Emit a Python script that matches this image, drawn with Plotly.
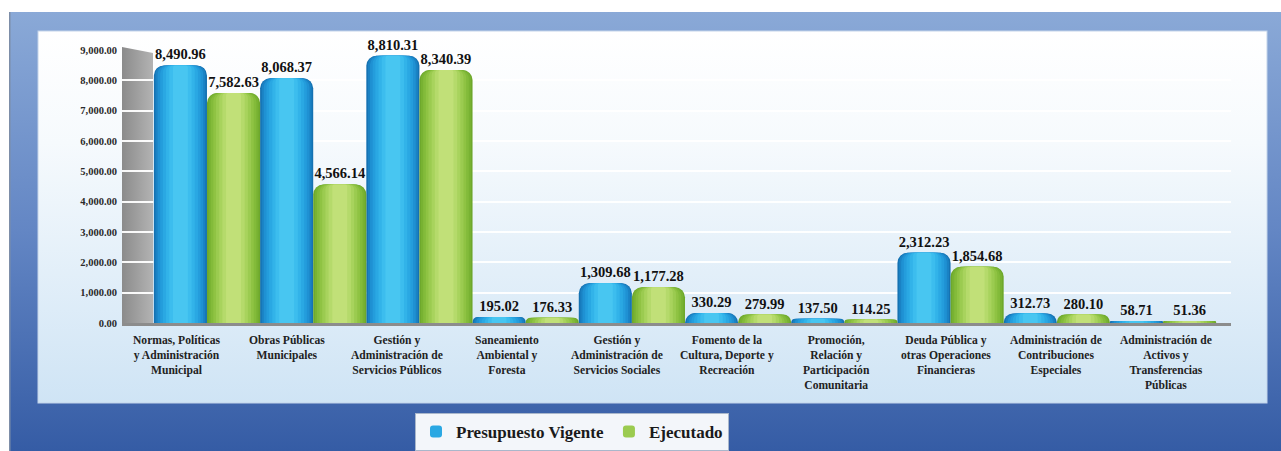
import base64
import plotly.graph_objects as go

# ---- data -------------------------------------------------------------
categorias = [
    "Normas, Políticas<br>y Administración<br>Municipal",
    "Obras Públicas<br>Municipales",
    "Gestión y<br>Administración de<br>Servicios Públicos",
    "Saneamiento<br>Ambiental y<br>Foresta",
    "Gestión y<br>Administración de<br>Servicios Sociales",
    "Fomento de la<br>Cultura, Deporte y<br>Recreación",
    "Promoción,<br>Relación y<br>Participación<br>Comunitaria",
    "Deuda Pública y<br>otras Operaciones<br>Financieras",
    "Administración de<br>Contribuciones<br>Especiales",
    "Administración de<br>Activos y<br>Transferencias<br>Públicas",
]
presupuesto_vigente = [8490.96, 8068.37, 8810.31, 195.02, 1309.68,
                       330.29, 137.50, 2312.23, 312.73, 58.71]
ejecutado = [7582.63, 4566.14, 8340.39, 176.33, 1177.28,
             279.99, 114.25, 1854.68, 280.10, 51.36]
y_ticks = [0, 1000, 2000, 3000, 4000, 5000, 6000, 7000, 8000, 9000]

# ---- page geometry (pixels) -------------------------------------------
W, H = 1281, 451
PLOT_L, PLOT_R = 122, 1231      # floor / value axis extent
PLOT_B, PLOT_T = 323, 50        # y=0 and y=9000
X_RANGE = [-0.8, 9.64]

SERIF = "Liberation Serif"

# ---- background: framed panel with gradients ---------------------------
svg = f"""<svg xmlns="http://www.w3.org/2000/svg" width="{W}" height="{H}" viewBox="0 0 {W} {H}">
<defs>
<linearGradient id="fr" x1="0" y1="0" x2="0" y2="1">
<stop offset="0" stop-color="#8aa9d7"/><stop offset="0.5" stop-color="#6386c4"/><stop offset="1" stop-color="#355ca5"/>
</linearGradient>
<linearGradient id="pn" x1="0" y1="0" x2="0" y2="1">
<stop offset="0" stop-color="#ffffff"/><stop offset="0.3" stop-color="#f6fafd"/><stop offset="1" stop-color="#cfe4f5"/>
</linearGradient>
<linearGradient id="wl" x1="0" y1="0" x2="1" y2="0">
<stop offset="0" stop-color="#8b8b8b"/><stop offset="1" stop-color="#b3b3b3"/>
</linearGradient>
</defs>
<rect x="10" y="12" width="{W-10}" height="{H-12}" fill="url(#fr)"/>
<rect x="9" y="12" width="1.5" height="{H-12}" fill="#7d8ea8"/>
<rect x="38" y="31" width="1229" height="372" fill="url(#pn)" stroke="#c3d4ea" stroke-width="1"/>
<polygon points="{PLOT_L},{PLOT_T-3} 153,{PLOT_T+3} 153,{PLOT_B} {PLOT_L},{PLOT_B}" fill="url(#wl)"/>
</svg>"""
svg_uri = "data:image/svg+xml;base64," + base64.b64encode(svg.encode()).decode()

fig = go.Figure()

# ---- cylinder-shaded bars: stacked layers, narrowing and lightening -----
shade_blue = ["#1572b2", "#1a82c4", "#1f91d3", "#249ddc", "#2aa8e3",
              "#32b3e9", "#3cbdee", "#48c6f1"]
shade_green = ["#6ea82c", "#78b232", "#83bb3a", "#8fc343", "#9bcb50",
               "#a8d35d", "#b5da6b", "#c1e078"]
insets = [0.0, 0.03, 0.07, 0.12, 0.17, 0.23, 0.29, 0.36]
HALF = 0.5
LEGEND_LAYER = 4


def add_cylinder(values, left, shades, name):
    for k, (inset, col) in enumerate(zip(insets, shades)):
        width = HALF * (1 - 2 * inset)
        fig.add_trace(go.Bar(
            x=list(range(len(values))), y=values,
            offset=left + HALF * inset, width=width,
            marker=dict(color=col, line=dict(width=0), cornerradius="20%"),
            name=name,
            showlegend=(k == LEGEND_LAYER),
            text=[f"{v:,.2f}" for v in values] if k == 0 else None,
            textposition="outside" if k == 0 else None,
            textfont=dict(family=SERIF, size=14.5, color="#111111", weight="bold"),
            constraintext="none",
            cliponaxis=False,
            hoverinfo="skip" if k else "y+name",
        ))


add_cylinder(presupuesto_vigente, -0.5, shade_blue, "Presupuesto Vigente")
add_cylinder(ejecutado, 0.0, shade_green, "Ejecutado")

# category labels, drifting left toward the front of the 3-D floor
labels = []
for i, cat in enumerate(categorias):
    labels.append(dict(
        x=i, y=0, xref="x", yref="y", text=cat, showarrow=False,
        xanchor="center", yanchor="top", align="center",
        xshift=-30 + 3.7 * i, yshift=-9,
        font=dict(family=SERIF, size=11.6, color="#222222", weight="bold"),
    ))

fig.update_layout(
    width=W, height=H,
    margin=dict(l=0, r=0, t=0, b=0),
    paper_bgcolor="white",
    plot_bgcolor="rgba(0,0,0,0)",
    barmode="overlay",
    images=[dict(source=svg_uri, xref="paper", yref="paper", x=0, y=1,
                 sizex=1, sizey=1, xanchor="left", yanchor="top",
                 sizing="stretch", layer="below")],
    annotations=labels,
    xaxis=dict(
        domain=[PLOT_L / W, PLOT_R / W], range=X_RANGE,
        showticklabels=False, showgrid=False, zeroline=False,
        showline=True, linecolor="#8c8c8c", linewidth=3,
        automargin=False, fixedrange=True,
    ),
    yaxis=dict(
        domain=[1 - PLOT_B / H, 1 - PLOT_T / H], range=[0, 9000],
        tickmode="array", tickvals=y_ticks, tickformat=",.2f",
        tickfont=dict(family=SERIF, size=10.5, color="#2a2a2a", weight="bold"),
        ticklabelstandoff=4,
        showgrid=True, gridcolor="rgba(255,255,255,0.95)", gridwidth=1.5,
        zeroline=False, showline=False, ticks="",
        automargin=False, fixedrange=True,
    ),
    legend=dict(
        orientation="h", x=572 / W, y=1 - 432 / H,
        xanchor="center", yanchor="middle",
        bgcolor="#f3f6fa", bordercolor="#a9b7cb", borderwidth=1,
        font=dict(family=SERIF, size=17, color="#1a1a1a", weight="bold"),
        itemwidth=30, traceorder="normal",
    ),
    showlegend=True,
)

fig.write_html("out.html")
